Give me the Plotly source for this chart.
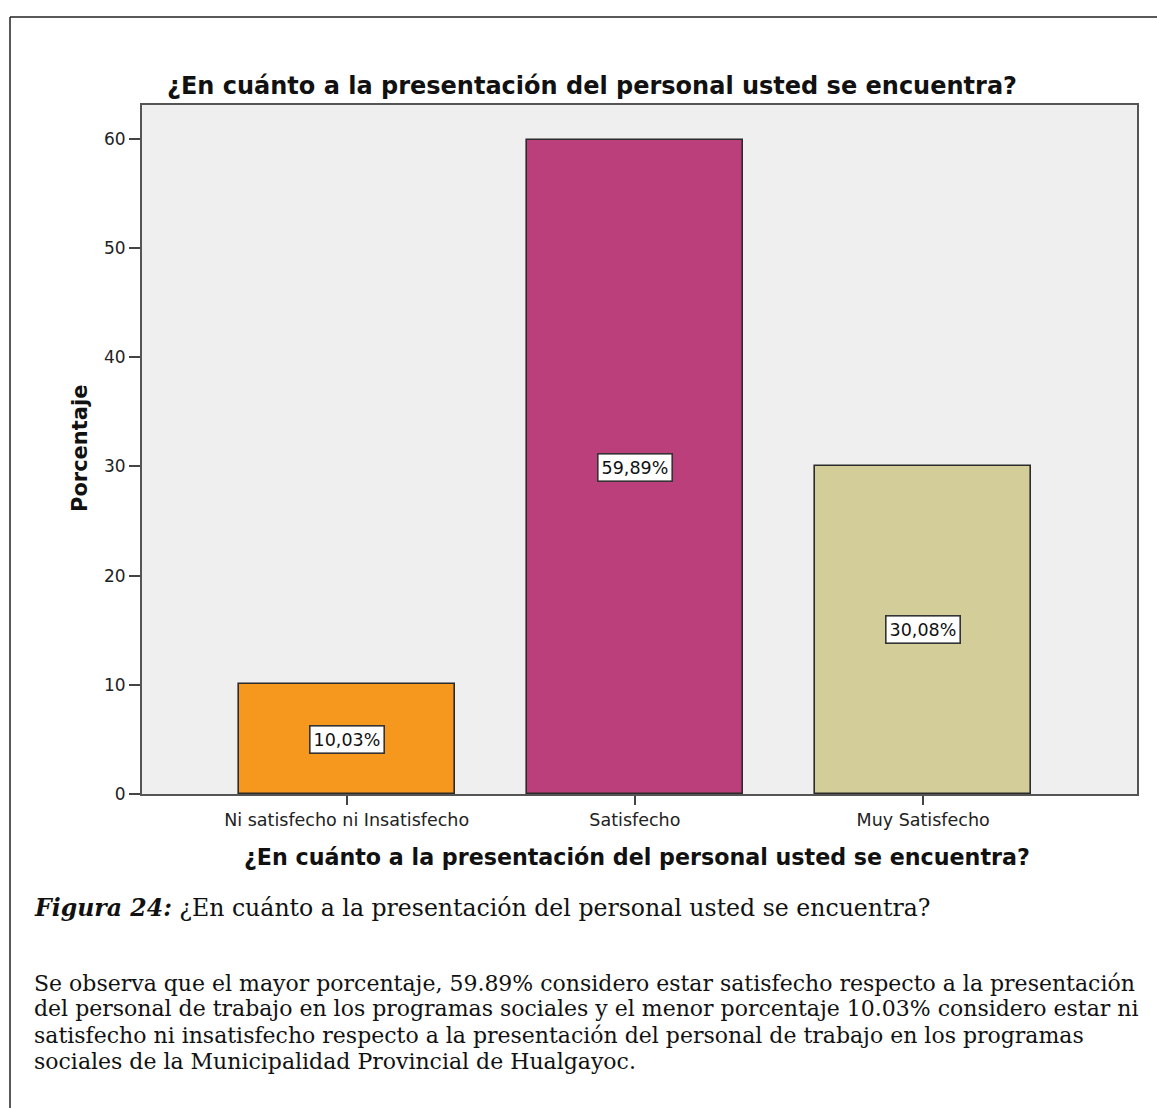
import plotly.graph_objects as go

# Survey results
categories = ["Ni satisfecho ni Insatisfecho", "Satisfecho", "Muy Satisfecho"]
percentages = [10.03, 59.89, 30.08]
bar_colors = ["#F7981E", "#BA3F7B", "#D3CE99"]
y_ticks = [0, 10, 20, 30, 40, 50, 60]

question = "¿En cuánto a la presentación del personal usted se encuentra?"
caption_label = "Figura 24:"
paragraph_lines = [
    "Se observa que el mayor porcentaje, 59.89% considero estar satisfecho respecto a la presentación",
    "del personal de trabajo en los programas sociales y el menor porcentaje 10.03% considero estar ni",
    "satisfecho ni insatisfecho respecto a la presentación del personal de trabajo en los programas",
    "sociales de la Municipalidad Provincial de Hualgayoc.",
]

W, H = 1157, 1108
L, R, T, B = 142, 20, 105, 314
PW, PH = W - L - R, H - T - B


def px(x):
    return (x - L) / PW


def py(y):
    return (H - B - y) / PH


SANS = "DejaVu Sans"
SERIF = "DejaVu Serif"

fig = go.Figure()
fig.add_trace(go.Bar(
    x=list(range(len(categories))),
    y=percentages,
    width=0.75,
    marker=dict(color=bar_colors, line=dict(color="#2b2b2b", width=1.6)),
    hoverinfo="skip",
))

annotations = []
# value labels in white boxes at mid-height of each bar
for i, v in enumerate(percentages):
    annotations.append(dict(
        x=i, y=v / 2, xref="x", yref="y",
        text=f"{v:.2f}".replace(".", ",") + "%",
        showarrow=False,
        font=dict(family=SANS, size=17.5, color="#111"),
        bgcolor="white", bordercolor="#333", borderwidth=1.6, borderpad=3,
    ))

# chart title
annotations.append(dict(
    x=px(592), y=py(86), xref="paper", yref="paper",
    text="<b>" + question + "</b>", showarrow=False,
    xanchor="center", yanchor="middle",
    font=dict(family=SANS, size=24, color="#111"),
))
# x axis title
annotations.append(dict(
    x=px(637), y=py(857), xref="paper", yref="paper",
    text="<b>" + question + "</b>", showarrow=False,
    xanchor="center", yanchor="middle",
    font=dict(family=SANS, size=22.2, color="#111"),
))
# y axis title
annotations.append(dict(
    x=px(80), y=py(449), xref="paper", yref="paper",
    text="<b>Porcentaje</b>", showarrow=False, textangle=-90,
    xanchor="center", yanchor="middle",
    font=dict(family=SANS, size=21, color="#111"),
))
# figure caption
annotations.append(dict(
    x=px(32), y=py(908), xref="paper", yref="paper",
    text="<b><i>" + caption_label + "</i></b> " + question, showarrow=False,
    xanchor="left", yanchor="middle",
    font=dict(family=SERIF, size=23.6, color="#111"),
))
# description paragraph
for k, line in enumerate(paragraph_lines):
    annotations.append(dict(
        x=px(32), y=py(983 + 26 * k), xref="paper", yref="paper",
        text=line, showarrow=False,
        xanchor="left", yanchor="middle",
        font=dict(family=SERIF, size=22, color="#111"),
    ))

shapes = [
    # page frame
    dict(type="line", xref="paper", yref="paper",
         x0=px(10), x1=px(1160), y0=py(17), y1=py(17),
         line=dict(color="#222", width=1.5)),
    dict(type="line", xref="paper", yref="paper",
         x0=px(10), x1=px(10), y0=py(17), y1=py(1110),
         line=dict(color="#222", width=1.5)),
]

fig.update_layout(
    width=W, height=H,
    margin=dict(l=L, r=R, t=T, b=B),
    paper_bgcolor="white",
    plot_bgcolor="#EFEFEF",
    showlegend=False,
    bargap=0,
    annotations=annotations,
    shapes=shapes,
    xaxis=dict(
        range=[-0.71, 2.742],
        tickvals=list(range(len(categories))),
        ticktext=categories,
        ticks="outside", ticklen=9, tickwidth=1.5, tickcolor="#444",
        showline=True, linecolor="#555", linewidth=1.8, mirror=True,
        showgrid=False, zeroline=False,
        tickfont=dict(family=SANS, size=17.5, color="#222"),
        fixedrange=True,
    ),
    yaxis=dict(
        range=[0, 63.1],
        tickvals=y_ticks,
        ticks="outside", ticklen=11, tickwidth=1.5, tickcolor="#444",
        showline=True, linecolor="#555", linewidth=1.8, mirror=True,
        showgrid=False, zeroline=False,
        tickfont=dict(family=SANS, size=17, color="#222"),
        fixedrange=True,
    ),
)

fig.write_html("out.html")
